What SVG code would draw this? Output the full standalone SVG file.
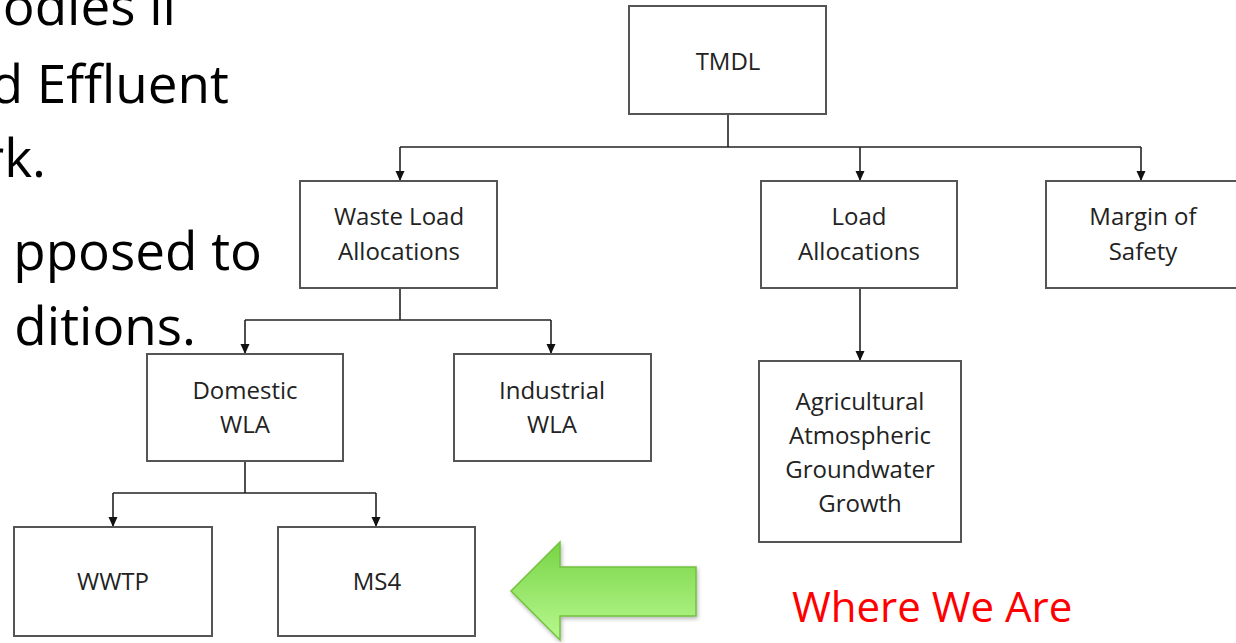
<svg xmlns="http://www.w3.org/2000/svg" width="1236" height="643" viewBox="0 0 1236 643">
<style>
.box{fill:#fff;stroke:#555;stroke-width:2}
.lbl{font-family:"Open Sans","Noto Sans",sans-serif;font-size:24px;fill:#222;text-anchor:middle}
.big{font-family:"Open Sans","Noto Sans",sans-serif;font-size:53px;fill:#000;text-anchor:end}
.conn{fill:none;stroke:#222;stroke-width:1.6}
</style>
<defs>
<marker id="ah" viewBox="0 0 10 10" refX="10" refY="5" markerWidth="10" markerHeight="10" markerUnits="userSpaceOnUse" orient="auto">
<path d="M0,0.5 L10,5 L0,9.5 Z" fill="#111"/>
</marker>
<linearGradient id="gg" x1="0" y1="0" x2="0" y2="1">
<stop offset="0" stop-color="#78d446"/>
<stop offset="1" stop-color="#b8f88f"/>
</linearGradient>
<filter id="sh" x="-10%" y="-10%" width="130%" height="130%">
<feGaussianBlur in="SourceAlpha" stdDeviation="2"/>
<feOffset dx="1" dy="2"/>
<feComponentTransfer><feFuncA type="linear" slope="0.3"/></feComponentTransfer>
<feMerge><feMergeNode/><feMergeNode in="SourceGraphic"/></feMerge>
</filter>
</defs>
<rect width="1236" height="643" fill="#fff"/>
<g id="bodytext">
<text class="big" x="176" y="25">odies ii</text>
<text class="big" x="229" y="103">d Effluent</text>
<text class="big" x="46" y="177">rk.</text>
<text class="big" x="262" y="270">pposed to</text>
<text class="big" x="196" y="345">ditions.</text>
</g>
<g id="connectors">
<path class="conn" d="M728,114 V147"/>
<path class="conn" d="M400,147 H1141"/>
<path class="conn" d="M400,147 V181" marker-end="url(#ah)"/>
<path class="conn" d="M860,147 V181" marker-end="url(#ah)"/>
<path class="conn" d="M1141,147 V181" marker-end="url(#ah)"/>
<path class="conn" d="M400,288 V320"/>
<path class="conn" d="M245,320 H551"/>
<path class="conn" d="M245,320 V354" marker-end="url(#ah)"/>
<path class="conn" d="M551,320 V354" marker-end="url(#ah)"/>
<path class="conn" d="M860,288 V361" marker-end="url(#ah)"/>
<path class="conn" d="M245,461 V493"/>
<path class="conn" d="M113,493 H376"/>
<path class="conn" d="M113,493 V527" marker-end="url(#ah)"/>
<path class="conn" d="M376,493 V527" marker-end="url(#ah)"/>
</g>
<g id="n-tmdl"><rect class="box" x="629" y="6" width="197" height="108"/><text class="lbl" x="728" y="70">TMDL</text></g>
<g id="n-wla"><rect class="box" x="300" y="181" width="197" height="107"/><text class="lbl" x="399" y="225">Waste Load</text><text class="lbl" x="399" y="260">Allocations</text></g>
<g id="n-la"><rect class="box" x="761" y="181" width="196" height="107"/><text class="lbl" x="859" y="225">Load</text><text class="lbl" x="859" y="260">Allocations</text></g>
<g id="n-mos"><rect class="box" x="1046" y="181" width="200" height="107"/><text class="lbl" x="1143" y="225">Margin of</text><text class="lbl" x="1143" y="260">Safety</text></g>
<g id="n-dom"><rect class="box" x="147" y="354" width="196" height="107"/><text class="lbl" x="245" y="399">Domestic</text><text class="lbl" x="245" y="433">WLA</text></g>
<g id="n-ind"><rect class="box" x="454" y="354" width="197" height="107"/><text class="lbl" x="552" y="399">Industrial</text><text class="lbl" x="552" y="433">WLA</text></g>
<g id="n-agr"><rect class="box" x="759" y="361" width="202" height="181"/><text class="lbl" x="860" y="410">Agricultural</text><text class="lbl" x="860" y="444">Atmospheric</text><text class="lbl" x="860" y="478">Groundwater</text><text class="lbl" x="860" y="512">Growth</text></g>
<g id="n-wwtp"><rect class="box" x="14" y="527" width="198" height="109"/><text class="lbl" x="113" y="590">WWTP</text></g>
<g id="n-ms4"><rect class="box" x="278" y="527" width="197" height="109"/><text class="lbl" x="377" y="590">MS4</text></g>
<g id="arrow"><path d="M511,591 L560,542 L560,567 L696,567 L696,616 L560,616 L560,640 Z" fill="url(#gg)" stroke="#72c23e" stroke-width="1.5" filter="url(#sh)"/></g>
<g id="where"><text x="792" y="622" style="font-family:'Open Sans','Noto Sans',sans-serif;font-size:42px;fill:#ff0000">Where We Are</text></g>
</svg>
